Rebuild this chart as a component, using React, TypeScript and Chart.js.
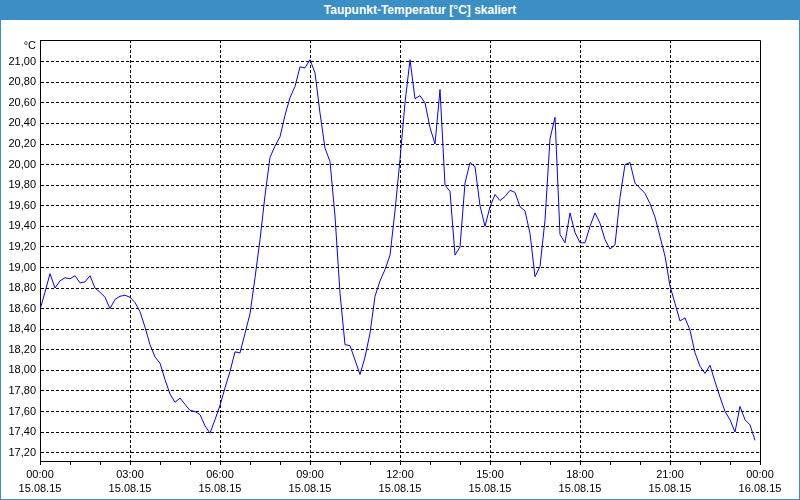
import React, { useEffect, useRef } from "react";
import { Chart, registerables } from "chart.js";

Chart.register(...registerables);

const chartTitle = "Taupunkt-Temperatur [°C] skaliert";
const unitLabel = "°C";
const stepMinutes = 10;

// Dew point, one reading every 10 minutes from 15.08.15 00:00
const dewPoint = [
  18.59, 18.76, 18.94, 18.8, 18.87, 18.9, 18.89, 18.92, 18.85, 18.86,
  18.92, 18.8, 18.76, 18.71, 18.6, 18.69, 18.72, 18.73, 18.71, 18.66,
  18.57, 18.42, 18.25, 18.13, 18.07, 17.91, 17.77, 17.69, 17.73, 17.67,
  17.61, 17.6, 17.57, 17.46, 17.39, 17.52, 17.66, 17.83, 17.99, 18.18,
  18.17, 18.36, 18.55, 18.9, 19.27, 19.7, 20.07, 20.18, 20.27, 20.48,
  20.65, 20.76, 20.95, 20.94, 21.02, 20.89, 20.5, 20.16, 20.03, 19.5,
  18.75, 18.25, 18.24, 18.1, 17.96, 18.13, 18.36, 18.72, 18.87, 18.98,
  19.12, 19.55, 20.05, 20.6, 21.02, 20.64, 20.67, 20.6, 20.36, 20.2,
  20.73, 19.8, 19.74, 19.12, 19.2, 19.82, 20.02, 19.98, 19.6, 19.4,
  19.59, 19.71, 19.65, 19.69, 19.75, 19.73, 19.59, 19.55, 19.33, 18.91,
  19.01, 19.46, 20.25, 20.46, 19.32, 19.24, 19.53, 19.34, 19.24, 19.24,
  19.4, 19.53, 19.43, 19.27, 19.18, 19.22, 19.68, 20.0, 20.02, 19.82,
  19.77, 19.72, 19.62, 19.49, 19.3, 19.11, 18.82, 18.65, 18.48, 18.51,
  18.39, 18.17, 18.04, 17.97, 18.05, 17.89, 17.74, 17.6, 17.52, 17.4,
  17.65, 17.52, 17.47, 17.32,
];

const yTickValues = [
  17.2, 17.4, 17.6, 17.8, 18.0, 18.2, 18.4, 18.6, 18.8, 19.0,
  19.2, 19.4, 19.6, 19.8, 20.0, 20.2, 20.4, 20.6, 20.8, 21.0,
];
const yMin = 17.119;
const yMax = 21.211;

const xTickMinutes = [
  0, 60, 120, 180, 240, 300, 360, 420, 480, 540, 600, 660, 720,
  780, 840, 900, 960, 1020, 1080, 1140, 1200, 1260, 1320, 1380, 1440,
];
const xLabelTimes = ["00:00", "03:00", "06:00", "09:00", "12:00", "15:00", "18:00", "21:00", "00:00"];
const xLabelDates = ["15.08.15", "15.08.15", "15.08.15", "15.08.15", "15.08.15", "15.08.15", "15.08.15", "15.08.15", "16.08.15"];
const xMajorEvery = 180;
const xEnd = 1440;

const FONT = "'Liberation Sans', Arial, sans-serif";
const BLUE = "#3c8fc4";

const framePlugin = {
  id: "frame",
  afterDraw(chart: any) {
    const { ctx, chartArea } = chart;
    ctx.save();
    ctx.strokeStyle = "#000";
    ctx.lineWidth = 1;
    ctx.setLineDash([]);
    const t = Math.round(chartArea.top) + 0.5;
    const r = Math.round(chartArea.right) + 0.5;
    const l = Math.round(chartArea.left) + 0.5;
    const b = Math.round(chartArea.bottom) + 0.5;
    ctx.beginPath();
    ctx.moveTo(l, t);
    ctx.lineTo(r, t);
    ctx.lineTo(r, b);
    ctx.stroke();
    ctx.fillStyle = "#000";
    ctx.font = `11px ${FONT}`;
    ctx.textAlign = "right";
    ctx.textBaseline = "middle";
    ctx.fillText(unitLabel, chartArea.left - 4, chartArea.top + 6);
    ctx.restore();
  },
};

export default function App() {
  const canvasRef = useRef<HTMLCanvasElement>(null);

  useEffect(() => {
    if (!canvasRef.current) return;
    const points = dewPoint.map((v, i) => ({ x: i * stepMinutes, y: v }));
    const chart = new Chart(canvasRef.current, {
      type: "line",
      data: {
        datasets: [
          {
            data: points,
            borderColor: "#0000ff",
            borderWidth: 1,
            pointRadius: 0,
            tension: 0,
            fill: false,
          },
        ],
      },
      options: {
        animation: false,
        responsive: false,
        devicePixelRatio: 1,
        layout: { padding: { left: 0, right: 39, top: 20, bottom: 0 } },
        plugins: {
          legend: { display: false },
          title: { display: false },
          tooltip: { enabled: false },
        },
        scales: {
          x: {
            type: "linear",
            min: 0,
            max: xEnd,
            afterBuildTicks: (scale: any) => {
              scale.ticks = xTickMinutes.map((v) => ({ value: v }));
            },
            afterFit: (scale: any) => {
              scale.height = 38;
            },
            ticks: {
              autoSkip: false,
              maxRotation: 0,
              minRotation: 0,
              padding: 2,
              color: "#000",
              font: { family: FONT, size: 11, lineHeight: 1.36 },
              callback: (value: any) => {
                const v = Number(value);
                if (v % xMajorEvery !== 0) return "";
                const k = v / xMajorEvery;
                return [xLabelTimes[k], xLabelDates[k]];
              },
            },
            grid: {
              color: (c: any) => {
                const v = c.tick ? c.tick.value : -1;
                return v % xMajorEvery === 0 && v !== 0 && v !== xEnd ? "#000" : "rgba(0,0,0,0)";
              },
              lineWidth: 1,
              drawTicks: true,
              tickLength: 4,
              tickColor: "#000",
              tickWidth: 1,
              tickBorderDash: [],
            },
            border: { display: true, color: "#000", width: 1, dash: [3, 2] },
          },
          y: {
            type: "linear",
            min: yMin,
            max: yMax,
            afterBuildTicks: (scale: any) => {
              scale.ticks = yTickValues.map((v) => ({ value: v }));
            },
            afterFit: (scale: any) => {
              scale.width = 39;
            },
            ticks: {
              padding: 4,
              color: "#000",
              font: { family: FONT, size: 11 },
              callback: (value: any) => Number(value).toFixed(2).replace(".", ","),
            },
            grid: {
              color: "#000",
              lineWidth: 1,
              drawTicks: false,
            },
            border: { display: true, color: "#000", width: 1, dash: [3, 2] },
          },
        },
      },
      plugins: [framePlugin],
    });
    return () => chart.destroy();
  }, []);

  return (
    <div
      style={{
        position: "fixed",
        left: 0,
        top: 0,
        width: 800,
        height: 500,
        background: "#ffffff",
        boxSizing: "border-box",
        borderLeft: `1px solid ${BLUE}`,
        borderRight: `1px solid ${BLUE}`,
        borderBottom: `1px solid ${BLUE}`,
        overflow: "hidden",
      }}
    >
      <div
        style={{
          position: "absolute",
          left: -1,
          top: 0,
          width: 800,
          height: 20,
          background: BLUE,
          color: "#fff",
          fontFamily: FONT,
          fontWeight: "bold",
          fontSize: 12,
          lineHeight: "20px",
          textAlign: "center",
          paddingLeft: 40,
          boxSizing: "border-box",
        }}
      >
        {chartTitle}
      </div>
      <canvas
        ref={canvasRef}
        width={798}
        height={479}
        style={{ position: "absolute", left: 0, top: 20, width: 798, height: 479 }}
      />
    </div>
  );
}
